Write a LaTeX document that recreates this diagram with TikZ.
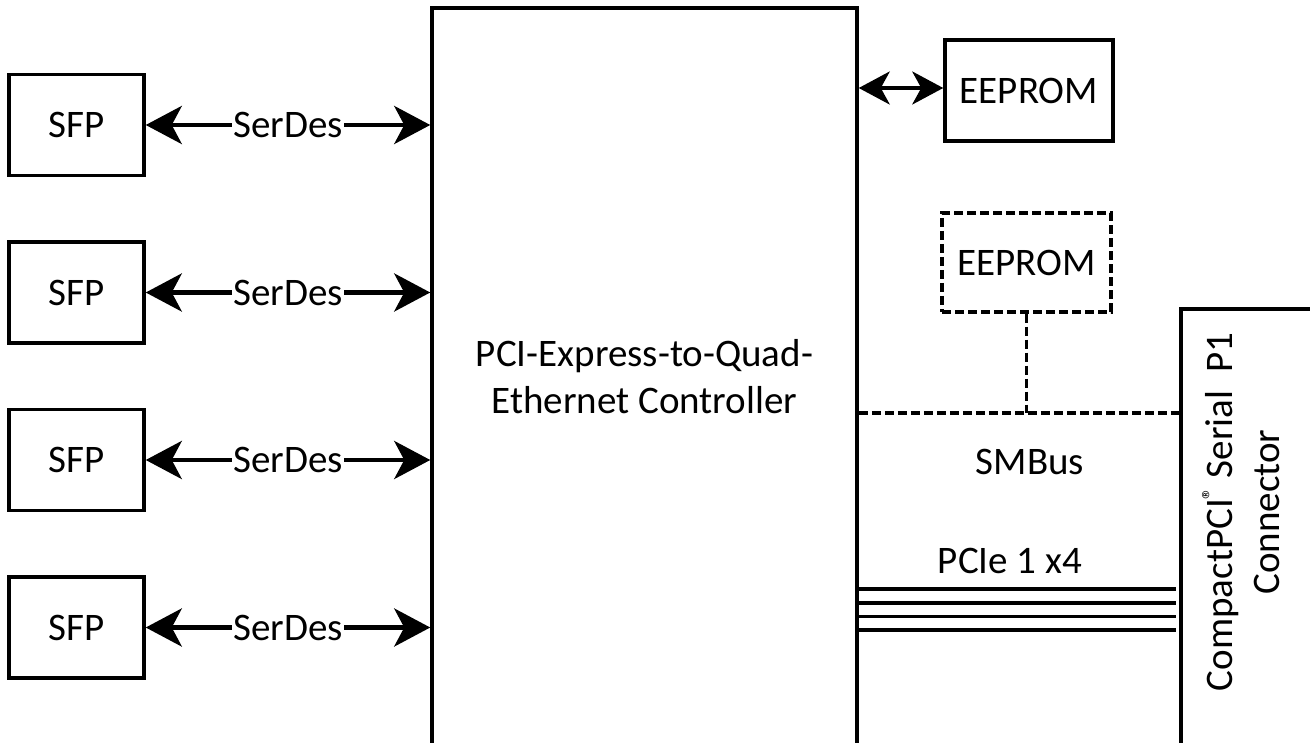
\documentclass[tikz,border=0pt]{standalone}
\usepackage{fontspec}
\setmainfont{Carlito}
\usetikzlibrary{arrows.meta}
\begin{document}
\begin{tikzpicture}[x=1pt,y=-1pt,
  every node/.style={font=\fontsize{39}{47}\selectfont},
  box/.style={draw=black,line width=3.5pt,minimum width=135pt,minimum height=101pt,inner sep=0pt,align=center},
  dbox/.style={box,dash pattern=on 9pt off 4pt},
  bigarrow/.style={line width=4.5pt,{Stealth[length=36pt,width=38pt,inset=10pt]}-{Stealth[length=36pt,width=38pt,inset=10pt]}},
  smallarrow/.style={line width=3.5pt,{Stealth[length=31pt,width=33pt,inset=9pt]}-{Stealth[length=31pt,width=33pt,inset=9pt]}},
  dline/.style={line width=3.5pt,dash pattern=on 9pt off 4pt},
  bus/.style={line width=3.5pt},
  lbl/.style={fill=white,inner sep=1pt}]
\useasboundingbox[fill=white] (0,0) rectangle (1310,743);
% main controller
\node[box,minimum width=425pt,minimum height=737pt] (main) at (644.5,376.5)
  {PCI-Express-to-Quad-\\Ethernet Controller};
% SFPs
\node[box] (sfp1) at (76.5,125) {SFP};
\node[box] (sfp2) at (76.5,292.5) {SFP};
\node[box] (sfp3) at (76.5,460) {SFP};
\node[box] (sfp4) at (76.5,627.5) {SFP};
\foreach \i in {1,2,3,4}{
  \draw[bigarrow] (sfp\i.east) -- node[lbl] (sd\i) {SerDes} (sfp\i.east -| main.west) ;
}
% EEPROMs
\node[box,minimum width=168pt] (ee1) at (1029,90.5) {EEPROM};
\node[dbox,minimum width=169pt,minimum height=99pt] (ee2) at (1026.5,262.5) {EEPROM};
% connector
\node[draw=black,line width=3.5pt,minimum width=134pt,minimum height=436pt,inner sep=0pt] (conn) at (1248,527) {};
\node[rotate=90,align=center,inner sep=0pt] (conntext) at (1241,512)
  {CompactPCI\raisebox{0.75ex}{\fontsize{24}{24}\selectfont\textregistered} Serial\ \ P1\\Connector};
% EEPROM arrow
\coordinate (eea) at (main.east |- 0,88);
\draw[smallarrow] (eea) -- (eea -| ee1.west);
% SMBus
\coordinate (smb) at (main.east |- 0,413);
\coordinate (smbj) at (ee2.south |- smb);
\draw[dline] (smb) -- (smb -| conn.west);
\draw[dline] (ee2.south) -- (smbj);
\node (smbus) at (1030,462) {SMBus};
% PCIe lanes
\foreach \yy in {589,603,616.5,630}{
  \draw[bus] (main.east |- 0,\yy) -- ([xshift=-3pt]conn.west |- 0,\yy);
}
\node (pcie) at (1010,561) {PCIe 1 x4};
\end{tikzpicture}
\end{document}
